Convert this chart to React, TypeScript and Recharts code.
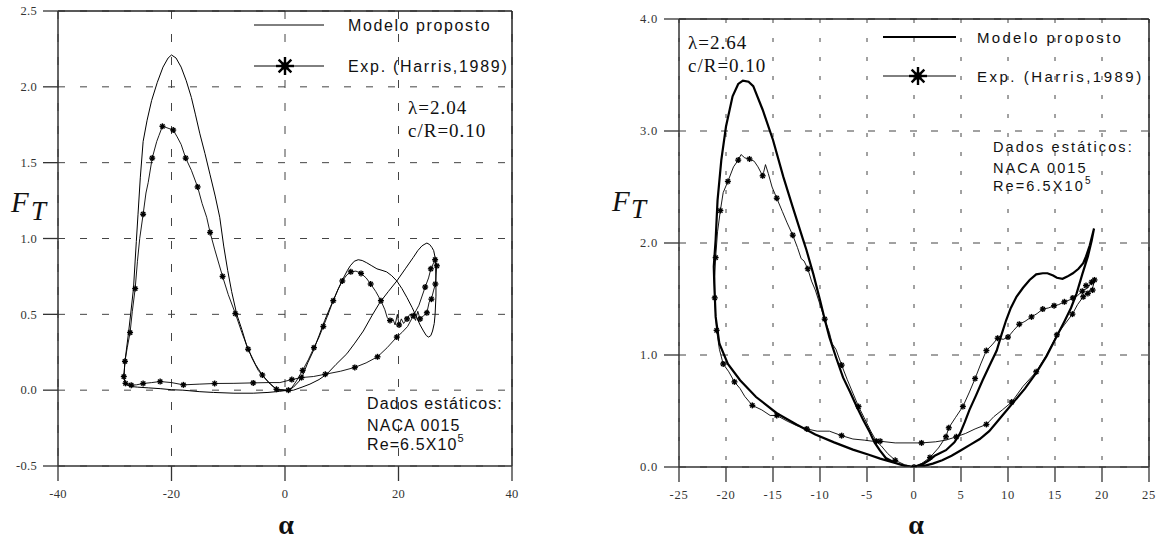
import React from 'react';
import { ComposedChart, Line, XAxis, YAxis, CartesianGrid, ReferenceLine } from 'recharts';

type P = [number, number];

// ---------- LEFT PANEL (lambda = 2.04) ----------
const leftXTicks = [-40, -20, 0, 20, 40];
const leftYTicks = [-0.5, 0, 0.5, 1, 1.5, 2, 2.5];

const leftModel: P[] = [
  [-28.4,0.08],[-28.1,0.04],[-27.3,0.025],[-26.0,0.02],[-24.0,0.015],[-22.0,0.01],[-20.0,0.003],[-18.0,0.0],[-15.0,-0.01],[-12.6,-0.015],[-9.0,-0.02],[-5.6,-0.02],[-3.0,-0.015],[-1.0,-0.008],[0.5,0.0],
  [1.5,0.02],[2.5,0.06],[3.2,0.105],[4.0,0.18],[5.0,0.26],[6.0,0.36],[7.0,0.46],[8.0,0.55],[8.5,0.59],[9.4,0.67],[10.3,0.74],[11.0,0.79],[11.5,0.82],[12.2,0.85],[12.9,0.86],[13.6,0.855],[14.4,0.84],[15.3,0.82],[16.2,0.80],[17.1,0.79],[17.9,0.78],[18.8,0.755],[19.7,0.72],[20.6,0.67],[21.5,0.61],[22.4,0.545],[23.2,0.48],[23.8,0.43],[24.4,0.39],[24.9,0.36],[25.3,0.35],[25.7,0.36],[26.0,0.39],[26.3,0.44],[26.45,0.50],[26.6,0.62],[26.6,0.72],[26.55,0.80],[26.45,0.875],[26.2,0.92],[25.9,0.94],[25.5,0.96],[25.0,0.97],[24.5,0.96],[24.1,0.95],[23.4,0.92],[22.6,0.875],
  [21.2,0.80],[19.7,0.72],[18.2,0.65],[16.75,0.58],[15.3,0.49],[13.8,0.39],[12.3,0.31],[10.9,0.24],[9.0,0.17],[7.35,0.105],[6.0,0.07],[4.4,0.04],[3.0,0.02],[1.5,0.0],[0.3,-0.005],
  [-0.5,0.0],[-1.2,0.0],[-2.0,0.02],[-2.6,0.04],[-3.6,0.08],[-4.7,0.13],[-5.8,0.21],[-6.8,0.30],[-7.6,0.40],[-8.5,0.50],[-9.4,0.65],[-10.1,0.79],[-10.8,0.95],[-11.5,1.14],[-12.3,1.28],[-13.2,1.42],[-14.1,1.56],[-15.0,1.69],[-15.8,1.82],[-16.5,1.93],[-17.4,2.04],[-18.3,2.13],[-19.2,2.19],[-20.0,2.21],[-20.6,2.19],[-21.5,2.13],[-22.5,2.03],[-23.5,1.91],[-24.3,1.78],[-25.0,1.64],[-25.5,1.40],[-25.9,1.16],[-26.2,0.98],[-26.7,0.67],[-27.2,0.50],[-27.6,0.37],[-28.2,0.19],[-28.4,0.08]
];

const leftExp: P[] = [
  [0.6,0.0],[0.9,0.0],[2.0,0.06],[3.1,0.13],[4.1,0.20],[5.1,0.28],[6.0,0.35],[6.75,0.42],[7.6,0.50],[8.5,0.59],[9.3,0.66],[10.1,0.72],[10.9,0.76],[11.6,0.78],[12.5,0.785],[13.4,0.77],[14.3,0.74],[15.1,0.70],[16.0,0.65],[16.9,0.59],[17.6,0.53],[18.0,0.48],[18.5,0.46],[19.0,0.47],[19.4,0.43],[19.8,0.50],[20.1,0.43],[20.5,0.47],[20.9,0.44],[21.5,0.47],[22.0,0.50],[22.6,0.49],[23.0,0.46],[23.4,0.52],[23.8,0.47],[24.4,0.49],[25.0,0.51],[25.4,0.58],[25.8,0.60],[26.2,0.66],[26.5,0.70],[26.75,0.82],[26.45,0.86],[25.7,0.80],[25.3,0.74],[24.7,0.68],[23.6,0.56],[22.6,0.49],[21.6,0.42],[20.6,0.38],[19.7,0.35],[18.0,0.28],[16.3,0.22],[14.3,0.18],[12.3,0.15],[9.8,0.125],[7.1,0.105],[5.0,0.09],[2.9,0.083],[1.2,0.07],[-0.9,0.05],[-3.0,0.05],[-5.6,0.048],[-9.0,0.045],[-12.4,0.044],[-15.0,0.04],[-17.9,0.035],[-20.0,0.05],[-22.0,0.057],[-23.5,0.05],[-25.0,0.044],[-26.2,0.035],[-27.1,0.033],[-28.1,0.045],[-28.4,0.09],[-28.3,0.14],[-28.2,0.19],[-27.8,0.28],[-27.3,0.38],[-26.9,0.52],[-26.4,0.67],[-26.0,0.85],[-25.6,1.0],[-25.0,1.16],[-24.5,1.30],[-24.1,1.37],[-23.4,1.53],[-22.6,1.64],[-22.2,1.68],[-21.6,1.74],[-20.8,1.73],[-19.7,1.715],[-19.0,1.67],[-18.3,1.62],[-17.5,1.53],[-16.5,1.45],[-15.4,1.34],[-14.6,1.23],[-13.8,1.14],[-13.2,1.04],[-12.4,0.93],[-11.0,0.75],[-10.0,0.63],[-8.75,0.505],[-7.6,0.38],[-6.5,0.27],[-5.2,0.17],[-4.0,0.10],[-2.8,0.05],[-1.5,0.006],[0.6,0.0]
];

const leftStars: P[] = [
  [-28.4,0.09],[-28.2,0.19],[-27.3,0.38],[-26.4,0.67],[-25.0,1.16],[-23.4,1.53],[-21.6,1.74],[-19.7,1.715],[-17.5,1.53],[-15.4,1.34],[-13.2,1.04],[-11.0,0.75],[-8.75,0.505],[-6.5,0.27],[-4.0,0.10],[-1.5,0.006],[0.6,0.0],
  [-28.1,0.045],[-27.1,0.033],[-25.0,0.044],[-22.0,0.057],[-17.9,0.035],[-12.4,0.044],[-5.6,0.048],
  [1.2,0.07],[2.9,0.083],[3.1,0.13],[5.1,0.28],[6.75,0.42],[8.5,0.59],[10.1,0.72],[11.6,0.78],[13.4,0.77],[15.1,0.70],[16.9,0.59],[18.5,0.46],[20.1,0.43],[21.5,0.47],[22.6,0.49],[23.8,0.47],[25.0,0.51],[25.8,0.60],[24.7,0.68],[26.5,0.70],[26.75,0.82],[26.45,0.86],[25.7,0.80],[19.7,0.35],[16.3,0.22],[12.3,0.15],[7.1,0.105]
];

// ---------- RIGHT PANEL (lambda = 2.64) ----------
const rightXTicks = [-25, -20, -15, -10, -5, 0, 5, 10, 15, 20, 25];
const rightYTicks = [0, 1, 2, 3, 4];

const rightModel: P[] = [
  [0,0],[1,0.008],[2,0.03],[3,0.06],[4,0.10],[5,0.15],[6,0.20],[7,0.25],[8,0.32],[9,0.42],[10,0.52],[10.5,0.57],[11.8,0.70],[13,0.84],[14.1,0.99],[15.2,1.17],[16.0,1.30],[16.7,1.42],[17.3,1.55],[17.9,1.72],[18.5,1.88],[18.9,2.02],[19.15,2.13],
  [18.7,1.98],[18.3,1.88],[18.0,1.82],[17.5,1.77],[16.9,1.73],[16.3,1.70],[15.8,1.68],[15.2,1.69],[14.8,1.71],[14.2,1.73],[13.7,1.73],[13.0,1.72],[12.3,1.67],[11.6,1.60],[10.9,1.52],[10.3,1.42],[9.8,1.31],[9.3,1.18],[8.8,1.04],[8.0,0.90],[7.3,0.775],[6.6,0.64],[5.9,0.51],[5.4,0.40],[4.9,0.30],[4.3,0.22],[3.4,0.15],[2.2,0.10],[1.6,0.06],[1.0,0.03],[0,0],
  [-1.0,0.01],[-2.0,0.035],[-3.0,0.08],[-3.65,0.15],[-4.2,0.22],[-4.7,0.31],[-5.4,0.42],[-6.1,0.54],[-6.8,0.67],[-7.55,0.80],[-8.3,0.98],[-9.0,1.16],[-9.5,1.32],[-10.0,1.49],[-10.7,1.72],[-11.45,1.94],[-11.8,2.03],[-12.9,2.32],[-13.9,2.59],[-15.0,2.92],[-16.1,3.19],[-17.1,3.40],[-17.6,3.44],[-18.2,3.45],[-18.7,3.42],[-19.3,3.31],[-20.0,3.04],[-20.5,2.74],[-20.9,2.38],[-21.1,2.03],[-21.3,1.79],[-21.25,1.64],[-21.1,1.34],[-20.7,1.10],[-19.8,0.92],[-18.5,0.775],[-16.8,0.625],[-14.6,0.48],[-12.5,0.38],[-10.5,0.29],[-8.5,0.22],[-6.5,0.155],[-4.8,0.11],[-3.6,0.075],[-2.2,0.04],[-1.0,0.012],[0,0]
];

const rightExp: P[] = [
  [18.9,1.65],[18.5,1.60],[17.9,1.57],[17.4,1.53],[16.9,1.51],[16.5,1.49],[16.0,1.475],[15.4,1.45],[14.9,1.44],[14.3,1.42],[13.7,1.41],[13.1,1.37],[12.5,1.34],[11.8,1.30],[11.2,1.275],[10.6,1.22],[10.0,1.16],[9.5,1.14],[8.9,1.15],[8.3,1.09],[7.7,1.04],[7.1,0.92],[6.5,0.79],[5.9,0.67],[5.2,0.54],[4.4,0.44],[3.7,0.35],[3.4,0.27],[2.6,0.17],[1.7,0.085],[0.8,0.03],[0,0],
  [-1.0,0.02],[-2.0,0.06],[-2.8,0.12],[-3.5,0.19],[-4.0,0.23],[-4.6,0.32],[-5.3,0.44],[-5.9,0.54],[-6.5,0.66],[-7.1,0.78],[-7.7,0.91],[-8.3,1.05],[-8.7,1.10],[-9.0,1.20],[-9.5,1.32],[-10.0,1.45],[-10.5,1.58],[-10.9,1.66],[-11.3,1.77],[-11.7,1.84],[-12.0,1.86],[-12.4,1.96],[-12.9,2.07],[-13.5,2.18],[-14.0,2.28],[-14.6,2.40],[-15.1,2.50],[-15.5,2.62],[-15.8,2.70],[-16.0,2.63],[-16.1,2.60],[-16.6,2.68],[-17.0,2.73],[-17.5,2.75],[-18.0,2.76],[-18.4,2.79],[-18.7,2.74],[-19.2,2.68],[-19.8,2.55],[-20.3,2.45],[-20.6,2.29],[-20.9,2.10],[-21.1,1.87],[-21.2,1.70],[-21.2,1.51],[-21.1,1.35],[-21.0,1.22],[-20.7,1.05],[-20.3,0.92],[-19.7,0.85],[-19.1,0.76],[-18.5,0.70],[-18.0,0.63],[-17.2,0.55],[-16.2,0.51],[-15.3,0.46],[-14.6,0.46],[-13.5,0.41],[-12.5,0.37],[-11.4,0.34],[-10.3,0.32],[-9.0,0.32],[-7.7,0.28],[-6.5,0.25],[-5.3,0.24],[-4.4,0.23],[-3.6,0.23],[-2.0,0.215],[0.8,0.215],[2.3,0.225],[3.4,0.24],[4.5,0.27],[5.5,0.30],[6.5,0.34],[7.7,0.38],[8.5,0.45],[9.4,0.51],[10.4,0.58],[11.6,0.72],[13.0,0.85],[14.1,1.0],[15.2,1.18],[16.0,1.27],[16.85,1.365],[17.4,1.45],[18.0,1.52],[18.5,1.56],[19.0,1.60],[19.2,1.66],[18.9,1.65]
];

const rightStars: P[] = [
  [0,0],[1.7,0.085],[3.4,0.27],[3.7,0.35],[5.2,0.54],[6.5,0.79],[7.7,1.04],[8.9,1.15],[10.0,1.16],[11.2,1.275],[12.5,1.34],[13.7,1.41],[14.9,1.44],[16.0,1.475],[16.9,1.51],[17.9,1.57],[18.9,1.65],[19.2,1.67],[19.0,1.58],[18.3,1.62],[18.5,1.55],
  [-2.0,0.06],[-4.0,0.23],[-5.9,0.54],[-7.7,0.91],[-9.5,1.32],[-11.3,1.77],[-12.9,2.07],[-14.6,2.40],[-16.1,2.60],[-17.5,2.75],[-18.7,2.74],[-19.8,2.55],[-20.6,2.29],[-21.1,1.87],[-21.2,1.51],[-21.0,1.22],[-20.3,0.92],[-19.1,0.76],[-17.2,0.55],[-14.6,0.46],[-11.4,0.34],[-7.7,0.28],[-3.6,0.23],[0.8,0.215],[4.5,0.27],[7.7,0.38],[10.4,0.58],[13.0,0.85],[15.2,1.18],[16.85,1.365],[18.0,1.52]
];

const legendLabels = ['Modelo proposto', 'Exp. (Harris,1989)'];

const SERIF = '"Liberation Serif", "Times New Roman", serif';
const SANS = '"Liberation Sans", Arial, sans-serif';

const toRows = (pts: P[]) => pts.map(([a, f]) => ({ a, f }));

const StarMark = (props: any) => {
  const { cx, cy, index, r = 4.8, w = 1.4 } = props;
  if (cx == null || cy == null || isNaN(cx) || isNaN(cy)) return null;
  const d = r * 0.7071;
  return (
    <g key={`st-${index}`}>
      <line x1={cx - r} y1={cy} x2={cx + r} y2={cy} stroke="#000" strokeWidth={w} />
      <line x1={cx} y1={cy - r} x2={cx} y2={cy + r} stroke="#000" strokeWidth={w} />
      <line x1={cx - d} y1={cy - d} x2={cx + d} y2={cy + d} stroke="#000" strokeWidth={w} />
      <line x1={cx - d} y1={cy + d} x2={cx + d} y2={cy - d} stroke="#000" strokeWidth={w} />
      <circle cx={cx} cy={cy} r={r * 0.42} fill="#000" />
    </g>
  );
};

const makeXTick = (spacing: number) => (props: any) => {
  const { x, y, payload, index } = props;
  return (
    <text key={`xt-${index}`} x={x} y={y} dy={12} textAnchor="middle" fontFamily={SERIF} fontSize={12.5} letterSpacing={spacing} fill="#333">
      {String(payload.value)}
    </text>
  );
};

const makeYTick = (spacing: number) => (props: any) => {
  const { x, y, payload, index } = props;
  return (
    <text key={`yt-${index}`} x={x} y={y} dy={4.3} textAnchor="end" fontFamily={SERIF} fontSize={12.5} letterSpacing={spacing} fill="#333">
      {Number(payload.value).toFixed(1)}
    </text>
  );
};

type PanelProps = {
  model: P[];
  exp: P[];
  stars: P[];
  xDomain: [number, number];
  yDomain: [number, number];
  xTicks: number[];
  yTicks: number[];
  margin: { top: number; right: number; bottom: number; left: number };
  yWidth: number;
  modelWidth: number;
  hDash: string;
  vDash: string;
  tickSpacing: number;
};

const Panel = (p: PanelProps) => (
  <ComposedChart width={580} height={540} margin={p.margin}>
    <CartesianGrid horizontal vertical={false} stroke="#444" strokeDasharray={p.hDash} />
    <CartesianGrid horizontal={false} vertical stroke="#444" strokeDasharray={p.vDash} />
    <XAxis
      dataKey="a"
      type="number"
      domain={p.xDomain}
      ticks={p.xTicks}
      interval={0}
      allowDataOverflow
      height={30}
      tickSize={15}
      tickMargin={5}
      tick={makeXTick(p.tickSpacing)}
      axisLine={{ stroke: '#333', strokeWidth: 1.5 }}
      tickLine={{ stroke: '#333', strokeWidth: 1.3 }}
    />
    <YAxis
      dataKey="f"
      type="number"
      domain={p.yDomain}
      ticks={p.yTicks}
      interval={0}
      allowDataOverflow
      width={p.yWidth}
      tickSize={15}
      tickMargin={6}
      tick={makeYTick(p.tickSpacing)}
      axisLine={{ stroke: '#333', strokeWidth: 1.5 }}
      tickLine={{ stroke: '#333', strokeWidth: 1.3 }}
    />
    <ReferenceLine y={p.yDomain[1]} stroke="#222" strokeWidth={1.3} />
    <ReferenceLine x={p.xDomain[1]} stroke="#222" strokeWidth={1.5} />
    <Line
      data={toRows(p.exp)}
      dataKey="f"
      type="linear"
      stroke="#000"
      strokeWidth={0.9}
      dot={false}
      activeDot={false}
      isAnimationActive={false}
    />
    <Line
      data={toRows(p.model)}
      dataKey="f"
      type="linear"
      stroke="#000"
      strokeWidth={p.modelWidth}
      dot={false}
      activeDot={false}
      isAnimationActive={false}
    />
    <Line
      data={toRows(p.stars)}
      dataKey="f"
      type="linear"
      stroke="none"
      dot={(props: any) => <StarMark {...props} />}
      activeDot={false}
      isAnimationActive={false}
    />
  </ComposedChart>
);

const Overlay = () => (
  <svg width={1160} height={540} style={{ position: 'absolute', left: 0, top: 0, pointerEvents: 'none' }}>
    {/* left panel annotations */}
    <line x1={254} y1={25} x2={324} y2={25} stroke="#000" strokeWidth={1} />
    <line x1={254} y1={66} x2={324} y2={66} stroke="#000" strokeWidth={1} />
    <StarMark cx={285} cy={66} r={9} w={2.4} index={900} />
    <text x={348} y={25} dominantBaseline="central" fontFamily={SANS} fontSize={16} letterSpacing={1.6} fill="#111">{legendLabels[0]}</text>
    <text x={348} y={66} dominantBaseline="central" fontFamily={SANS} fontSize={16} letterSpacing={1.7} fill="#111">{legendLabels[1]}</text>
    <text x={408} y={107} dominantBaseline="central" fontFamily={SERIF} fontSize={19} letterSpacing={1} fill="#111">λ=2.04</text>
    <text x={408} y={130} dominantBaseline="central" fontFamily={SERIF} fontSize={19} letterSpacing={1} fill="#111">c/R=0.10</text>
    <text x={367} y={403} dominantBaseline="central" fontFamily={SANS} fontSize={16} letterSpacing={1.1} fill="#111">Dados estáticos:</text>
    <text x={367} y={425} dominantBaseline="central" fontFamily={SANS} fontSize={16} letterSpacing={1.1} fill="#111">NACA 0015</text>
    <text x={367} y={444} dominantBaseline="central" fontFamily={SANS} fontSize={16} letterSpacing={1.1} fill="#111">
      Re=6.5X10<tspan fontSize={11} dy={-6}>5</tspan>
    </text>
    <text x={11} y={202} dominantBaseline="central" fontFamily={SERIF} fontStyle="italic" fontSize={29} fill="#111">F</text>
    <text x={31} y={211} dominantBaseline="central" fontFamily={SERIF} fontStyle="italic" fontSize={27} fill="#111">T</text>
    <text x={286} y={524} dominantBaseline="central" textAnchor="middle" fontFamily={SERIF} fontWeight="bold" fontSize={28} fill="#111">α</text>

    {/* right panel annotations */}
    <line x1={883} y1={37} x2={956} y2={37} stroke="#000" strokeWidth={2} />
    <line x1={883} y1={76} x2={956} y2={76} stroke="#000" strokeWidth={1} />
    <StarMark cx={918} cy={76} r={9} w={2.4} index={901} />
    <text x={977} y={37} dominantBaseline="central" fontFamily={SANS} fontSize={15} letterSpacing={2.3} fill="#111">{legendLabels[0]}</text>
    <text x={977} y={76} dominantBaseline="central" fontFamily={SANS} fontSize={15} letterSpacing={2.5} fill="#111">{legendLabels[1]}</text>
    <text x={688} y={42} dominantBaseline="central" fontFamily={SERIF} fontSize={19} letterSpacing={1} fill="#111">λ=2.64</text>
    <text x={688} y={65} dominantBaseline="central" fontFamily={SERIF} fontSize={19} letterSpacing={1} fill="#111">c/R=0.10</text>
    <text x={993} y={147} dominantBaseline="central" fontFamily={SANS} fontSize={14.5} letterSpacing={2.1} fill="#111">Dados estáticos:</text>
    <text x={993} y={168} dominantBaseline="central" fontFamily={SANS} fontSize={14.5} letterSpacing={2.1} fill="#111">NACA 0015</text>
    <text x={993} y={186} dominantBaseline="central" fontFamily={SANS} fontSize={14.5} letterSpacing={2.1} fill="#111">
      Re=6.5X10<tspan fontSize={10} dy={-6}>5</tspan>
    </text>
    <text x={612} y={201} dominantBaseline="central" fontFamily={SERIF} fontStyle="italic" fontSize={29} fill="#111">F</text>
    <text x={631} y={209} dominantBaseline="central" fontFamily={SERIF} fontStyle="italic" fontSize={27} fill="#111">T</text>
    <text x={916} y={524} dominantBaseline="central" textAnchor="middle" fontFamily={SERIF} fontWeight="bold" fontSize={28} fill="#111">α</text>
  </svg>
);

export default function App() {
  return (
    <div style={{ position: 'absolute', left: 0, top: 0, width: 1160, height: 540, background: '#fff', overflow: 'hidden' }}>
      <div style={{ position: 'absolute', left: 0, top: 0 }}>
        <Panel
          model={leftModel}
          exp={leftExp}
          stars={leftStars}
          xDomain={[-40, 40]}
          yDomain={[-0.5, 2.5]}
          xTicks={leftXTicks}
          yTicks={leftYTicks}
          margin={{ top: 11, right: 68, bottom: 44, left: 0 }}
          yWidth={58}
          modelWidth={1}
          hDash="7 15"
          vDash="8 15"
          tickSpacing={0.3}
        />
      </div>
      <div style={{ position: 'absolute', left: 580, top: 0 }}>
        <Panel
          model={rightModel}
          exp={rightExp}
          stars={rightStars}
          xDomain={[-25, 25]}
          yDomain={[0, 4]}
          xTicks={rightXTicks}
          yTicks={rightYTicks}
          margin={{ top: 19, right: 11, bottom: 43, left: 0 }}
          yWidth={99}
          modelWidth={2.2}
          hDash="7 14"
          vDash="4 15"
          tickSpacing={0.8}
        />
      </div>
      <Overlay />
    </div>
  );
}
